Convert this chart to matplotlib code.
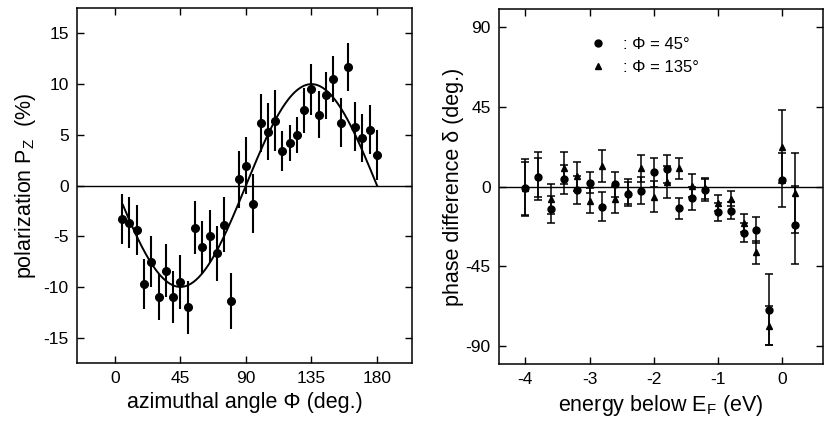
import matplotlib
matplotlib.use("Agg")
import matplotlib.pyplot as plt
import numpy as np

plt.rcParams["font.family"] = ["Liberation Sans", "DejaVu Sans"]
plt.rcParams["mathtext.default"] = "regular"
plt.rcParams["axes.unicode_minus"] = False

# left panel: spin polarization vs azimuthal angle
phi = [5, 10, 15, 20, 25, 30, 35, 40, 45, 50, 55, 60, 65, 70, 75, 80, 85, 90,
       95, 100, 105, 110, 115, 120, 125, 130, 135, 140, 145, 150, 155, 160,
       165, 170, 175, 180]
pz = [-3.3, -3.65, -4.4, -9.7, -7.5, -11.0, -8.4, -11.0, -9.5, -12.0, -4.15,
      -6.1, -5.0, -6.7, -3.85, -11.4, 0.6, 1.95, -1.8, 6.2, 5.3, 6.4, 3.4, 4.2,
      5.0, 7.4, 9.5, 7.0, 8.9, 10.5, 6.2, 11.7, 5.8, 4.7, 5.5, 3.0]
pz_err = [2.45, 2.5, 2.5, 2.5, 2.5, 2.3, 2.6, 2.6, 2.65, 2.6, 2.6, 2.6, 2.6,
          2.75, 2.7, 2.8, 2.8, 2.8, 2.9, 2.85, 2.8, 3.0, 2.0, 1.8, 1.8, 2.2,
          2.5, 2.3, 2.3, 2.3, 2.4, 2.4, 2.4, 2.4, 2.4, 2.45]
# fitted curve  P = -A sin(2 phi)
fit_amp = 10.0
fit_start, fit_end = 5.5, 180

# right panel: phase difference vs energy
energy = [-4.0, -3.8, -3.6, -3.4, -3.2, -3.0, -2.8, -2.6, -2.4, -2.2, -2.0,
          -1.8, -1.6, -1.4, -1.2, -1.0, -0.8, -0.6, -0.4, -0.2, 0.0, 0.2]
d45 = [-1.0, 5.3, -12.7, 4.1, -1.9, 2.3, -11.2, 1.3, -4.1, -2.2, 8.1, 9.8,
       -12.2, -6.6, -1.9, -14.1, -13.5, -25.9, -24.5, -69.5, 3.8, -21.7]
d45_err = [15, 11, 7.5, 8, 8, 6, 8, 7, 7, 7.5, 8, 8, 6, 6.7, 6, 5, 5, 5.5,
           7.2, 20, 15, 22]
d135 = [-0.5, 5.8, -7.1, 10.3, 5.8, -8.0, 11.6, -7.1, -2.8, 10.3, -5.6, 2.8,
        10.3, 0.4, -0.9, -9.0, -6.7, -20.4, -37.1, -78.4, 22.5, -3.7]
d135_err = [16, 13.5, 8.4, 9, 8.3, 7, 9, 7.5, 7, 7.5, 8.6, 9, 6, 6.5, 6,
            4.5, 4, 5, 6.5, 11, 20.5, 22.5]
labels = [": \u03a6 = 45\u00b0", ": \u03a6 = 135\u00b0"]

fig = plt.figure(figsize=(8.25, 4.25), dpi=100)
ax1 = fig.add_axes([0.0933, 0.146, 0.4061, 0.835])
ax2 = fig.add_axes([0.605, 0.1435, 0.392, 0.8345])

# ---- left
ax1.axhline(0, color="black", lw=1.0)
fx = np.linspace(fit_start, fit_end, 300)
ax1.plot(fx, -fit_amp * np.sin(np.radians(2 * fx)), color="black", lw=1.4)
ax1.errorbar(phi, pz, yerr=pz_err, fmt="o", color="black", ms=5.5,
             elinewidth=1.5, capsize=0)
ax1.set_xlim(-26, 204)
ax1.set_ylim(-17.5, 17.5)
ax1.set_xticks([0, 45, 90, 135, 180])
ax1.set_yticks([-15, -10, -5, 0, 5, 10, 15])
ax1.set_xlabel("azimuthal angle \u03a6 (deg.)", fontsize=15.5, labelpad=4)
ax1.set_ylabel("polarization P$_Z$  (%)", fontsize=15.5, labelpad=4)

# ---- right
ax2.axhline(0, color="black", lw=1.0)
eb1 = ax2.errorbar(energy, d45, yerr=d45_err, fmt="o", color="black", ms=5,
                   elinewidth=1.1, capsize=2.8, capthick=1.1)
eb2 = ax2.errorbar(energy, d135, yerr=d135_err, fmt="^", color="black", ms=5,
                   elinewidth=1.1, capsize=2.8, capthick=1.1)
ax2.set_xlim(-4.41, 0.63)
ax2.set_ylim(-100, 100)
ax2.set_xticks([-4, -3, -2, -1, 0])
ax2.set_yticks([-90, -45, 0, 45, 90])
ax2.set_xlabel("energy below E$_F$ (eV)", fontsize=15.5, labelpad=4)
ax2.set_ylabel("phase difference \u03b4 (deg.)", fontsize=15.5, labelpad=1)
ax2.legend([eb1.lines[0], eb2.lines[0]], labels, loc="upper left",
           bbox_to_anchor=(0.235, 0.965), frameon=False, fontsize=12,
           handlelength=1.0, handletextpad=1.0, labelspacing=0.5, numpoints=1)

for ax in (ax1, ax2):
    ax.tick_params(direction="in", length=5, width=1, top=True, right=True,
                   labelsize=12.5, pad=6)
    for s in ax.spines.values():
        s.set_linewidth(1.1)

fig.savefig("out.png", dpi=100)
